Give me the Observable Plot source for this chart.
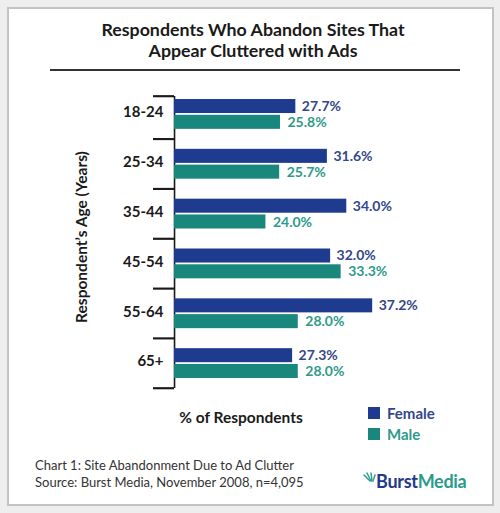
<!DOCTYPE html>
<html>
<head>
<meta charset="utf-8">
<script src="https://cdn.jsdelivr.net/npm/d3@7"></script>
<script src="https://cdn.jsdelivr.net/npm/@observablehq/plot@0.6"></script>
<style>
  html, body { margin: 0; padding: 0; }
  body { width: 500px; height: 513px; background: #eeeeee; position: relative; overflow: hidden; font-family: Lato, "Open Sans", sans-serif; }
  .frame { position: absolute; left: 7px; top: 7px; width: 483px; height: 495px; border: 2px solid #c3c3c3; background: #ffffff; }
  .abs { position: absolute; white-space: nowrap; }
  #title { left: 0; top: 19px; width: 506px; text-align: center; font-weight: bold; font-size: 17.8px; line-height: 21px; color: #1a1a1a; }
  #rule { left: 50px; top: 69px; width: 410px; height: 2px; background: #333; }
  #ytitle { left: 81px; top: 237px; transform: translate(-50%, -50%) rotate(-90deg); font-weight: bold; font-size: 15.5px; color: #1a1a1a; }
  #chart { left: 0; top: 80px; width: 500px; }
  #xtitle { left: 241px; top: 417px; transform: translate(-50%, -50%); font-weight: bold; font-size: 15.5px; color: #1a1a1a; }
  .sw { width: 12px; height: 12px; }
  .lg { font-weight: bold; font-size: 15px; transform: translateY(-50%); }
  .foot { left: 35px; font-size: 13px; color: #333; transform: translateY(-50%); }
  #logo { left: 363px; top: 481px; transform: translateY(-50%); font-weight: bold; font-size: 18px; letter-spacing: -0.3px; }
</style>
</head>
<body>
<div class="frame"></div>
<div id="title" class="abs">Respondents Who Abandon Sites That<br>Appear Cluttered with Ads</div>
<div id="rule" class="abs"></div>
<div id="ytitle" class="abs">Respondent’s Age (Years)</div>
<div id="chart" class="abs"></div>
<div id="xtitle" class="abs">% of Respondents</div>
<div id="legend"></div>
<div class="abs foot" style="top:465px">Chart 1: Site Abandonment Due to Ad Clutter</div>
<div class="abs foot" style="top:482px">Source: Burst Media, November 2008, n=4,095</div>
<div id="logo" class="abs"><svg width="13" height="10" viewBox="0 0 13 10" style="vertical-align: 6px; margin-right: 0px"><g stroke="#2a9a8c" stroke-width="1.4" stroke-linecap="round"><line x1="7" y1="9" x2="1" y2="3"/><line x1="8" y1="9" x2="4" y2="1"/><line x1="9" y1="9" x2="8" y2="1"/><line x1="10" y1="9" x2="12" y2="3"/></g></svg><span style="color:#1f3a8a">Burst</span><span style="color:#2a9a8c">Media</span></div>
<script>
const ages = ["18-24", "25-34", "35-44", "45-54", "55-64", "65+"];
const female = [27.7, 31.6, 34.0, 32.0, 37.2, 27.3];
const male = [25.8, 25.7, 24.0, 33.3, 28.0, 28.0];
const genders = ["Female", "Male"];
const barColors = ["#1e3b8f", "#19877c"];
const labelColors = ["#33478a", "#2e9a8b"];
// the reference's bars are not drawn from zero; this is the value at the axis line
const baseline = 12.7;
// left end of the bracket stubs and right end of the x domain
const stubStart = 10.1;
const xMax = 42;
// bracket tick positions (group boundaries, in row units)
const boundaries = [0.14, 1, 2, 3, 4, 5, 6];

const rows = ages.flatMap((age, i) => [
  {age, i, gender: "Female", value: female[i]},
  {age, i, gender: "Male", value: male[i]}
]);
const fRows = rows.filter(d => d.gender === "Female");
const mRows = rows.filter(d => d.gender === "Male");
const groups = ages.map((age, i) => ({age, i}));
const stubRows = boundaries.map(b => ({b}));

const W = 500, ML = 153, MR = 89;
const chart = Plot.plot({
  width: W,
  height: 328,
  marginLeft: ML,
  marginRight: MR,
  marginTop: 9,
  marginBottom: 20,
  style: "font-family: Lato, 'Open Sans', sans-serif; font-weight: bold; color: #1a1a1a; background: transparent; overflow: visible;",
  x: {domain: [stubStart, xMax], axis: null},
  y: {domain: [0, 6], reverse: true, axis: null},
  color: {domain: genders, range: barColors},
  marks: [
    Plot.ruleY(stubRows, {y: "b", x1: () => stubStart, x2: () => baseline, stroke: "#1a1a1a", strokeWidth: 1.6}),
    Plot.ruleX([baseline], {y1: boundaries[0], y2: boundaries[boundaries.length - 1], stroke: "#1a1a1a", strokeWidth: 1.6}),
    Plot.text(groups, {x: () => baseline, y: d => d.i + 0.5, text: "age", textAnchor: "end", dx: -11, dy: -2, fontSize: 15, fill: "#1a1a1a"}),
    Plot.rectX(fRows, {x1: () => baseline, x2: "value", y1: "i", y2: d => d.i + 1, fill: "gender", insetTop: 10, insetBottom: 25.8}),
    Plot.rectX(mRows, {x1: () => baseline, x2: "value", y1: "i", y2: d => d.i + 1, fill: "gender", insetTop: 25.8, insetBottom: 10}),
    Plot.text(fRows, {x: "value", y: d => d.i + 0.5, dy: -8, dx: 6, textAnchor: "start", text: d => d.value.toFixed(1) + "%", fill: labelColors[0], fontSize: 14}),
    Plot.text(mRows, {x: "value", y: d => d.i + 0.5, dy: 8, dx: 7, textAnchor: "start", text: d => d.value.toFixed(1) + "%", fill: labelColors[1], fontSize: 14})
  ]
});
document.getElementById("chart").appendChild(chart);

// bracket stubs again, placed with the plot's own y scale (in case the rule mark is not shown)
const yScale = chart.scale("y");
let xs0 = NaN, xs1 = NaN;
try { const xs = chart.scale("x"); xs0 = Plot.scale({x: xs}).apply(stubStart); xs1 = Plot.scale({x: xs}).apply(baseline); } catch (e) {}
if (!isFinite(xs0) || !isFinite(xs1)) {
  xs0 = ML;
  xs1 = ML + (baseline - stubStart) / (xMax - stubStart) * (W - ML - MR);
}
const stubG = d3.select(chart).append("g").attr("stroke", "#1a1a1a").attr("stroke-width", 1.6);
boundaries.forEach(b => {
  const py = Plot.scale({y: yScale}).apply(b);
  stubG.append("line").attr("x1", xs0).attr("x2", xs1).attr("y1", py).attr("y2", py);
});

const legend = document.getElementById("legend");
genders.forEach((g, k) => {
  const top = 407 + k * 21;
  const sw = document.createElement("div");
  sw.className = "abs sw";
  sw.style.left = "368px";
  sw.style.top = top + "px";
  sw.style.background = barColors[k];
  legend.appendChild(sw);
  const t = document.createElement("div");
  t.className = "abs lg";
  t.style.left = "387px";
  t.style.top = (top + 6) + "px";
  t.style.color = labelColors[k];
  t.textContent = g;
  legend.appendChild(t);
});
</script>
</body>
</html>
